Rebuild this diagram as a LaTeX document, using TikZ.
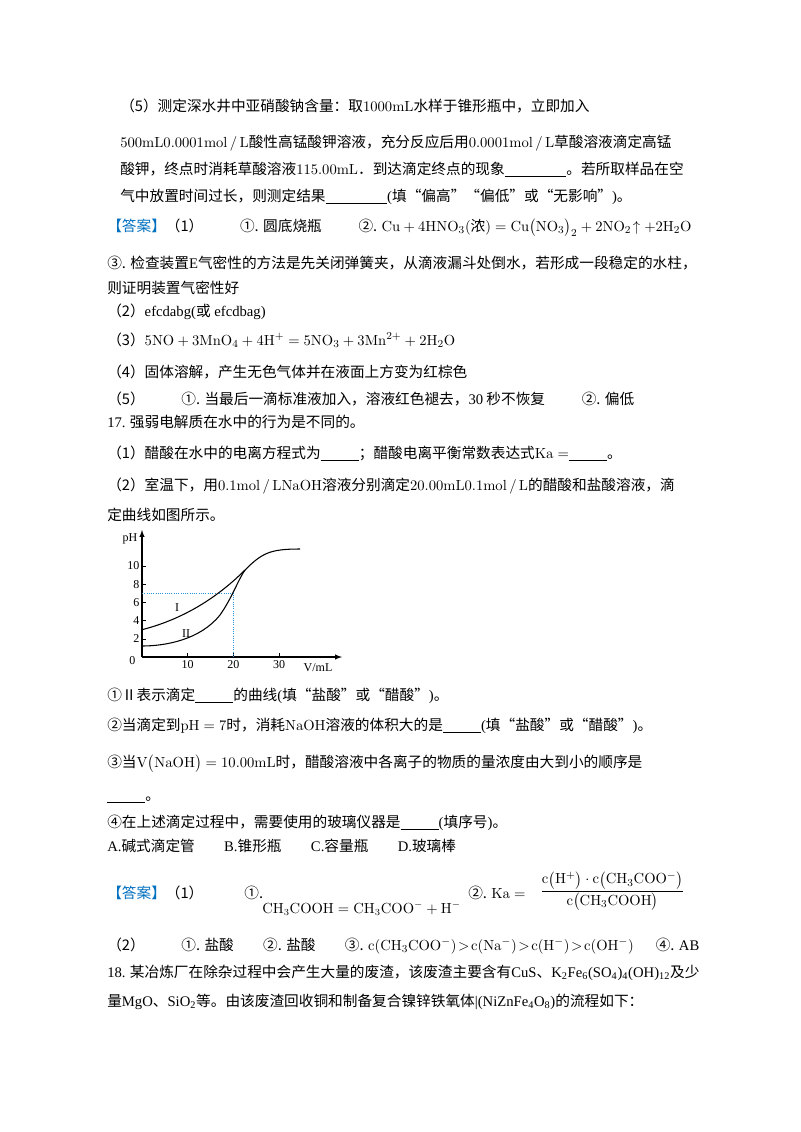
\documentclass[tikz,border=0pt]{standalone}
\usepackage{amsmath}
\usepackage[no-math]{fontspec}
\setmainfont{Noto Sans CJK SC}
\newfontfamily\tm{Liberation Serif}
\definecolor{ansblue}{RGB}{0,112,192}
\definecolor{dotblue}{RGB}{40,150,220}
\newcommand{\ub}{\underline{\hspace{2.6em}}}
\newcommand{\ubl}{\underline{\hspace{4.2em}}}
\newcommand{\rmm}[1]{$\mathrm{#1}$}
\begin{document}
\begin{tikzpicture}[x=0.75pt,y=-0.75pt,
  tl/.style={anchor=base west,inner sep=0pt,font=\fontsize{11}{13}\selectfont},
  ax/.style={line width=0.8pt,-latex},
  crv/.style={line width=0.8pt}]
\useasboundingbox (0,0) rectangle (800,1132);
\fill[white] (0,0) rectangle (800,1132);
\node[tl] (l1) at (120,111) {（5）测定深水井中亚硝酸钠含量：取\rmm{1000mL}水样于锥形瓶中，立即加入};
\node[tl] (l2) at (120,147) {\rmm{500mL0.0001mol\,/\,L}酸性高锰酸钾溶液，充分反应后用\rmm{0.0001mol\,/\,L}草酸溶液滴定高锰};
\node[tl] (l3) at (120,174) {酸钾，终点时消耗草酸溶液\rmm{115.00mL}．到达滴定终点的现象\ubl{}。若所取样品在空};
\node[tl] (l4) at (120,201) {气中放置时间过长，则测定结果\ubl{}{\tm (}填“偏高”“偏低”或“无影响”{\tm )}。};
\node[tl] (a1) at (107,231) {\textcolor{ansblue}{【答案】}（1）\hspace{2.5em}①. 圆底烧瓶\hspace{2.5em}②. \rmm{Cu+4HNO_3(\mbox{浓})=Cu\big(NO_3\big)_2+2NO_2\!\uparrow+2H_2O}};
\node[tl] (a2) at (107,268) {③. 检查装置{\tm E}气密性的方法是先关闭弹簧夹，从滴液漏斗处倒水，若形成一段稳定的水柱，};
\node[tl] (a3) at (107,293) {则证明装置气密性好};
\node[tl] (a4) at (107,316) {（2）{\tm efcdabg(}或{\tm\ efcdbag)}};
\node[tl] (a5) at (107,345) {（3）\rmm{5NO+3MnO_4+4H^{+}=5NO_3+3Mn^{2+}+2H_2O}};
\node[tl] (a6) at (107,377) {（4）固体溶解，产生无色气体并在液面上方变为红棕色};
\node[tl] (a7) at (107,404) {（5）\hspace{2.5em}①. 当最后一滴标准液加入，溶液红色褪去，{\tm 30} 秒不恢复\hspace{2.5em}②. 偏低};
\node[tl] (q17) at (107,427) {{\tm 17.} 强弱电解质在水中的行为是不同的。};
\node[tl] (q1) at (107,458) {（1）醋酸在水中的电离方程式为\ub{}；醋酸电离平衡常数表达式\rmm{Ka=}\ub{}。};
\node[tl] (q2) at (107,490) {（2）室温下，用\rmm{0.1mol\,/\,LNaOH}溶液分别滴定\rmm{20.00mL0.1mol\,/\,L}的醋酸和盐酸溶液，滴};
\node[tl] (q2b) at (107,520) {定曲线如图所示。};
% chart
\coordinate (O) at (142,657);
\coordinate (xe) at (342,657);
\coordinate (ye) at (142,530);
\draw[ax] (O) -- (xe);
\draw[ax] (O) -- (ye);
\node[font=\tm\small] (ph) at (130,539) {pH};
\node[font=\tm\small] (vml) at (318,668) {V/mL};
\node[font=\tm\small,anchor=east] (y0) at (140,661) {0};
\foreach \v in {2,4,6,8,10}{
  \draw (142,{657-9.1*\v}) -- (146,{657-9.1*\v});
  \node[font=\tm\small,anchor=east,inner sep=1pt] (y\v) at (141,{657-9.1*\v}) {\v};}
\foreach \v in {10,20,30}{
  \draw ({142+4.57*\v},657) -- ({142+4.57*\v},653);
  \node[font=\tm\small,anchor=north,inner sep=1pt] (x\v) at ({142+4.57*\v},659) {\v};}
\draw[dotblue,densely dotted,line width=0.7pt] (142,593.3) -- (233.4,593.3) -- (233.4,657);
\draw[crv] (142,629.7) .. controls (180,620) and (215,600) .. (245,570)
  .. controls (262,553) and (270,549) .. (300,549);
\draw[crv] (142,646) .. controls (165,646) and (200,640) .. (220,615)
  .. controls (232,598) and (238,580) .. (245,570);
\node[font=\tm\small] (cI) at (177,608) {I};
\node[font=\tm\small] (cII) at (186,634) {II};
% questions
\node[tl] (s1) at (107,700) {①Ⅱ表示滴定\ub{}的曲线{\tm (}填“盐酸”或“醋酸”{\tm )}。};
\node[tl] (s2) at (107,730) {②当滴定到\rmm{pH=7}时，消耗\rmm{NaOH}溶液的体积大的是\ub{}{\tm (}填“盐酸”或“醋酸”{\tm )}。};
\node[tl] (s3) at (107,767) {③当\rmm{V\big(NaOH\big)=10.00mL}时，醋酸溶液中各离子的物质的量浓度由大到小的顺序是};
\node[tl] (s3b) at (107,800) {\ub{}。};
\node[tl] (s4) at (107,827) {④在上述滴定过程中，需要使用的玻璃仪器是\ub{}{\tm (}填序号{\tm )}。};
\node[tl] (s5) at (107,851) {{\tm A.}碱式滴定管\hspace{2em}{\tm B.}锥形瓶\hspace{2em}{\tm C.}容量瓶\hspace{2em}{\tm D.}玻璃棒};
\node[tl] (b1) at (107,898) {\textcolor{ansblue}{【答案】}（1）\hspace{2.8em}①.};
\node[tl,font=\fontsize{10.5}{13}\selectfont] (b2) at (262,913) {\rmm{CH_3COOH=CH_3COO^-+H^-}};
\node[tl] (b3) at (468,898) {②. \rmm{Ka=}};
\node[font=\fontsize{11}{13}\selectfont,anchor=west,inner sep=0pt] (b4) at (540,891) {$\dfrac{\mathrm{c\big(H^+\big)\cdot c\big(CH_3COO^-\big)}}{\mathrm{c\big(CH_3COOH\big)}}$};
\node[tl] (b5) at (107,950) {（2）\hspace{2.5em}①. 盐酸\hspace{2em}②. 盐酸\hspace{2em}③. \rmm{c(CH_3COO^-)\!>\!c(Na^-)\!>\!c(H^-)\!>\!c(OH^-)}\hspace{1.5em}④. {\tm AB}};
\node[tl] (q18) at (107,977) {{\tm 18.} 某冶炼厂在除杂过程中会产生大量的废渣，该废渣主要含有{\tm CuS}、{\tm K\textsubscript{2}Fe\textsubscript{6}(SO\textsubscript{4})\textsubscript{4}(OH)\textsubscript{12}}及少};
\node[tl] (q18b) at (107,1006) {量{\tm MgO}、{\tm SiO\textsubscript{2}}等。由该废渣回收铜和制备复合镍锌铁氧体{\tm |(NiZnFe\textsubscript{4}O\textsubscript{8})}的流程如下：};
\end{tikzpicture}
\end{document}
